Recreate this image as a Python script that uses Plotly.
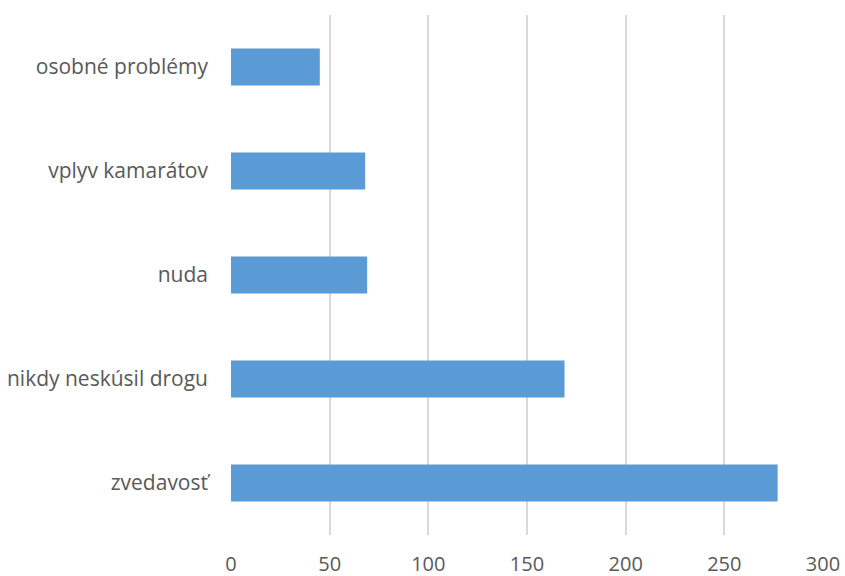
import plotly.graph_objects as go

categories = ["zvedavosť", "nikdy neskúsil drogu", "nuda", "vplyv kamarátov", "osobné problémy"]
values = [277, 169, 69, 68, 45]
x_ticks = [0, 50, 100, 150, 200, 250, 300]

fig = go.Figure(go.Bar(
    y=categories, x=values, orientation="h",
    marker=dict(color="#5B9BD5", line=dict(width=0)),
))
fig.update_layout(
    width=845, height=576,
    margin=dict(l=231, r=21, t=15, b=41),
    plot_bgcolor="white", paper_bgcolor="white",
    bargap=0.645,
    showlegend=False,
    font=dict(family="Open Sans, sans-serif", size=20, color="#595959"),
)
fig.update_xaxes(
    range=[0, 300.5], tickvals=x_ticks, showgrid=True, gridcolor="#D9D9D9", gridwidth=2,
    zeroline=False, showline=False, ticks="", ticklabelstandoff=15, automargin=False,
)
fig.update_yaxes(
    categoryorder="array", categoryarray=categories, showgrid=False, zeroline=False,
    showline=False, ticks="", ticklabelstandoff=22, automargin=False,
    tickfont=dict(size=21),
)
fig.write_html(
    "out.html",
    config={"displayModeBar": False},
    post_script="document.body.style.margin='0';document.body.style.overflow='hidden';",
)
